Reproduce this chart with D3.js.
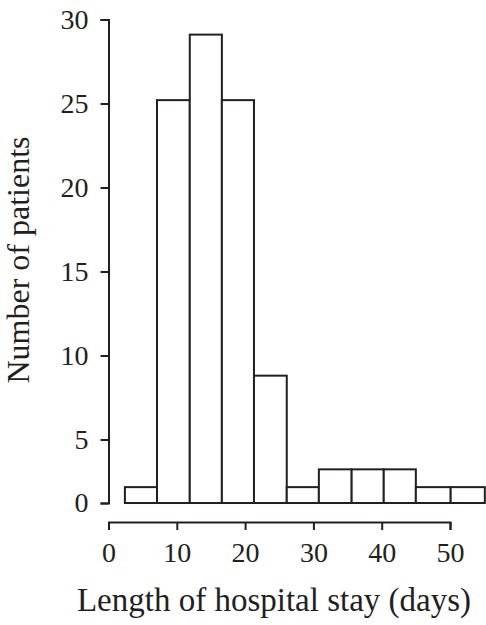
<!DOCTYPE html>
<html>
<head>
<meta charset="utf-8">
<script src="https://cdn.jsdelivr.net/npm/d3@7"></script>
<style>
  body { margin: 0; background: #fff; }
  svg text { font-family: "Liberation Serif", "DejaVu Serif", serif; fill: #231f20; }
</style>
</head>
<body>
<div id="js_chart"></div>
<script>
// bin edges (days) and patient counts
const binEdges = [2.4, 7.1, 11.9, 16.6, 21.3, 26.1, 30.8, 35.6, 40.3, 45.0, 50.1, 55.1];
const counts = [1.25, 25.2, 29.1, 25.2, 8.8, 1.25, 2.65, 2.65, 2.65, 1.25, 1.25];
const xTicks = [0, 10, 20, 30, 40, 50];
const yTicks = [0, 5, 10, 15, 20, 25, 30];

const width = 486;
const height = 625;
const ink = "#231f20";

const svg = d3.select("#js_chart")
  .append("svg")
  .attr("width", width)
  .attr("height", height);

const x = d3.scaleLinear().domain([0, 50]).range([108.5, 450]);
// the source figure's y axis is not uniform below 5, so map it piecewise
const y = d3.scaleLinear().domain([0, 5, 30]).range([503, 439.5, 19.5]);

const bins = counts.map((c, i) => ({ x0: binEdges[i], x1: binEdges[i + 1], n: c }));

// bars
svg.append("g")
  .selectAll("rect")
  .data(bins)
  .join("rect")
    .attr("x", d => x(d.x0))
    .attr("y", d => y(d.n))
    .attr("width", d => x(d.x1) - x(d.x0))
    .attr("height", d => y(0) - y(d.n))
    .attr("fill", "white")
    .attr("stroke", ink)
    .attr("stroke-width", 2);

// y axis
const yAxis = svg.append("g")
  .attr("transform", `translate(${x(0)},0)`)
  .call(d3.axisLeft(y).tickValues(yTicks).tickSizeOuter(0).tickSize(8).tickPadding(12));

// x axis
const xAxis = svg.append("g")
  .attr("transform", "translate(0,522)")
  .call(d3.axisBottom(x).tickValues(xTicks).tickSizeOuter(0).tickSize(8).tickPadding(12));

[yAxis, xAxis].forEach(a => {
  a.select(".domain").attr("stroke", ink).attr("stroke-width", 2);
  a.selectAll(".tick line").attr("stroke", ink).attr("stroke-width", 2);
  a.selectAll(".tick text")
    .attr("fill", ink)
    .style("font-size", "28px")
    .style("font-family", "'Liberation Serif', serif");
});

// axis titles
svg.append("text")
  .attr("x", 274)
  .attr("y", 611)
  .attr("text-anchor", "middle")
  .style("font-size", "33px")
  .text("Length of hospital stay (days)");

svg.append("text")
  .attr("transform", "translate(29,260) rotate(-90)")
  .attr("text-anchor", "middle")
  .style("font-size", "32px")
  .text("Number of patients");
</script>
</body>
</html>
